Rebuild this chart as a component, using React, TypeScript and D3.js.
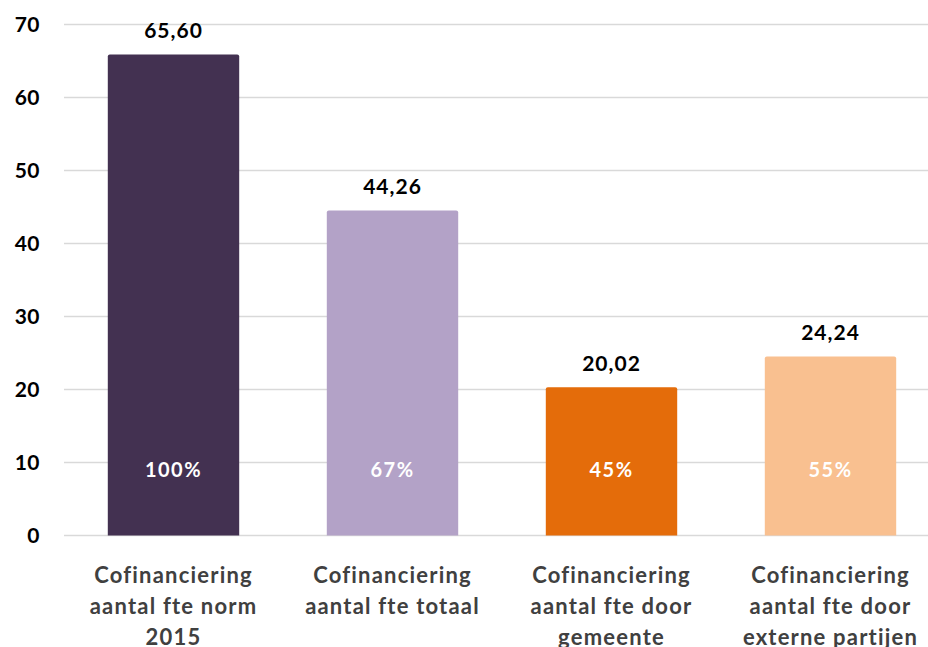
import * as d3 from "d3";

const categories = [
  ["Cofinanciering", "aantal fte norm", "2015"],
  ["Cofinanciering", "aantal fte totaal"],
  ["Cofinanciering", "aantal fte door", "gemeente"],
  ["Cofinanciering", "aantal fte door", "externe partijen"],
];
const values = [65.6, 44.26, 20.02, 24.24];
const percentLabels = ["100%", "67%", "45%", "55%"];
const barColors = ["#433151", "#B3A2C7", "#E46C0A", "#F9C090"];
const yTicks = [0, 10, 20, 30, 40, 50, 60, 70];

const W = 928;
const H = 647;
const FONT = "Lato, 'Open Sans', sans-serif";

export default function App() {
  const keys = categories.map((_, i) => String(i));
  const x = d3.scaleBand().domain(keys).range([64, 940]).paddingInner(0.4).paddingOuter(0.2);
  const y = d3.scaleLinear().domain([0, 70]).range([535.5, 24.5]);
  const fmt = (v: number) => d3.format(".2f")(v).replace(".", ",");

  return (
    <svg width={W} height={H} style={{ position: "absolute", left: 0, top: 0, background: "#fff" }}>
      {/* gridlines */}
      {yTicks.map((t) => (
        <line key={t} x1={64} x2={W} y1={y(t)} y2={y(t)} stroke="#d9d9d9" strokeWidth={1.5} />
      ))}
      {/* y axis labels */}
      {yTicks.map((t) => (
        <text key={"l" + t} x={40} y={y(t)} dy="0.35em" textAnchor="end" letterSpacing={0.5}
          fontFamily={FONT} fontWeight="bold" fontSize={21} fill="#000">{t}</text>
      ))}
      {/* bars */}
      {values.map((v, i) => {
        const bx = x(String(i)) ?? 0;
        const bw = x.bandwidth();
        const cx = bx + bw / 2;
        const top = y(v) - 2;
        return (
          <g key={i}>
            <path
              d={`M${bx},${y(0)} V${top + 2} Q${bx},${top} ${bx + 2},${top} H${bx + bw - 2} Q${bx + bw},${top} ${bx + bw},${top + 2} V${y(0)} Z`}
              fill={barColors[i]}
            />
            <text x={cx} y={top - 24} dy="0.35em" textAnchor="middle" letterSpacing={1}
              fontFamily={FONT} fontWeight="bold" fontSize={21} fill="#000">{fmt(v)}</text>
            <text x={cx} y={y(9)} dy="0.35em" textAnchor="middle" letterSpacing={1.5}
              fontFamily={FONT} fontWeight="bold" fontSize={20} fill="#fff">{percentLabels[i]}</text>
            {categories[i].map((line, j) => (
              <text key={j} x={cx} y={575 + j * 31} dy="0.35em" textAnchor="middle" letterSpacing={1.2}
                fontFamily={FONT} fontWeight="bold" fontSize={22} fill="#404040">{line}</text>
            ))}
          </g>
        );
      })}
    </svg>
  );
}
